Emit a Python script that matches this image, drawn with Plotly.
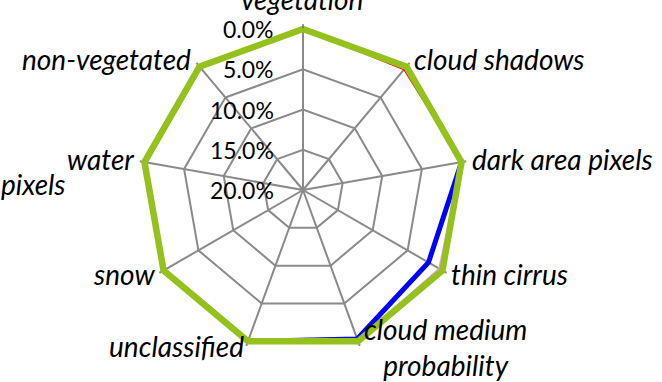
import plotly.graph_objects as go

categories = ["vegetation", "cloud shadows", "dark area pixels", "thin cirrus",
              "cloud medium<br>probability", "unclassified", "snow", "water", "non-vegetated"]

series_red = [0.0, 0.005, 0.0, 0.0, 0.0, 0.0, 0.0, 0.0, 0.0]
series_blue = [0.0, 0.0, 0.0, 0.02, 0.003, 0.0, 0.0, 0.0, 0.0]
series_pink = [0.0, 0.0, 0.0, 0.005, 0.001, 0.0, 0.0, 0.0, 0.0]
series_green = [0.0, 0.0, 0.0, 0.0, 0.0, 0.0, 0.0, 0.0, 0.0]

radial_ticks = [0.0, 0.05, 0.10, 0.15, 0.20]
radial_ticktext = ["0.0%", "5.0%", "10.0%", "15.0%", "20.0%"]
extra_label = "pixels"

FONT = "Lato"
W, H = 662, 382
CX, CY, R = 303, 190, 161
R_MAX, R_PAD = 0.2, 0.006          # small headroom so the thick outer line is not clipped
RO = R * (R_MAX + R_PAD) / R_MAX   # pixel radius of the plotting area

# label placement (pixels): (x, y_center, xanchor)
label_pos = [(302, -1, "center"), (412, 59, "left"), (470, 159, "left"),
             (449, 274, "left"), (445, 347, "center"), (246, 346, "right"),
             (157, 274, "right"), (136, 159, "right"), (193, 59, "right")]


def closed(v):
    return list(v) + [v[0]]


theta = closed(categories)

fig = go.Figure()
for vals, color, width in [(series_red, "#FF0000", 1.2),
                           (series_blue, "#0000FF", 5),
                           (series_pink, "#FF99EE", 1.5),
                           (series_green, "#94C11C", 6.5)]:
    fig.add_trace(go.Scatterpolar(r=closed(vals), theta=theta, mode="lines",
                                  line=dict(color=color, width=width),
                                  cliponaxis=False,
                                  showlegend=False, hoverinfo="skip"))

fig.update_layout(
    width=W, height=H,
    margin=dict(l=0, r=0, t=0, b=0),
    paper_bgcolor="white", plot_bgcolor="white",
    font=dict(family=FONT, color="black"),
    showlegend=False,
    polar=dict(
        domain=dict(x=[(CX - RO) / W, (CX + RO) / W], y=[1 - (CY + RO) / H, 1 - (CY - RO) / H]),
        gridshape="linear",
        bgcolor="white",
        angularaxis=dict(
            type="category", rotation=90, direction="clockwise",
            showline=False,
            gridcolor="#8A8A8A", gridwidth=1.5,
            showgrid=True, ticks="", showticklabels=False,
            layer="below traces",
        ),
        radialaxis=dict(
            range=[R_MAX, -R_PAD], tickvals=radial_ticks, showline=False,
            gridcolor="#8A8A8A", gridwidth=1.5, ticks="", showticklabels=False,
            layer="below traces",
        ),
    ),
)

# category labels
for cat, (px, py, anchor) in zip(categories, label_pos):
    fig.add_annotation(text=cat, x=px / W, y=1 - py / H, xref="paper", yref="paper",
                       xanchor=anchor, yanchor="middle", showarrow=False, align="center",
                       font=dict(family=FONT, size=28, style="italic", color="black"))

# radial tick labels, placed at the rings of the reversed radial scale
for v, txt in zip(radial_ticks, radial_ticktext):
    ring_y = CY - R * (R_MAX - v) / R_MAX
    fig.add_annotation(text=txt, x=276 / W, y=1 - ring_y / H, xref="paper", yref="paper",
                       xanchor="right", yanchor="middle", showarrow=False,
                       font=dict(family=FONT, size=23, color="black"))

fig.add_annotation(text=extra_label, x=68 / W, y=1 - 184 / H, xref="paper", yref="paper",
                   xanchor="right", yanchor="middle", showarrow=False,
                   font=dict(family=FONT, size=28, style="italic", color="black"))

fig.write_html("out.html")
